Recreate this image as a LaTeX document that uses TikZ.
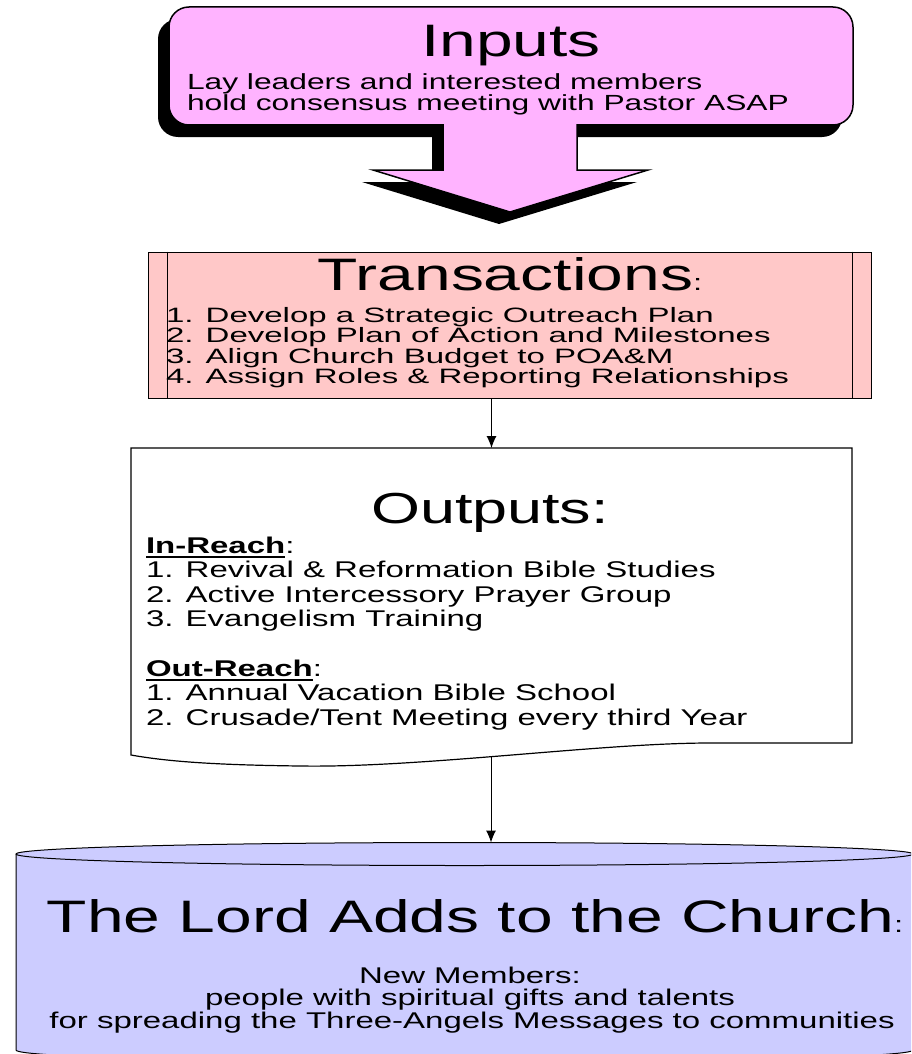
\documentclass[tikz,border=0pt]{standalone}
\usepackage{fontspec}
\usepackage{graphicx}
\setmainfont{Liberation Sans}[FakeStretch=1.45]
\usetikzlibrary{arrows.meta}
\definecolor{inpink}{RGB}{255,179,255}
\definecolor{trpink}{RGB}{255,200,200}
\definecolor{lav}{RGB}{204,204,255}
\newcommand\hdfont{\fontsize{45.5}{48}\selectfont}
\newcommand\opfont{\fontsize{43.4}{46}\selectfont}
\newcommand\smfont{\fontsize{22.75}{24}\selectfont}
\newcommand\infont{\fontsize{21.9}{24}\selectfont}
\newcommand\trfont{\fontsize{20.8}{20}\selectfont}
\newcommand\trline[1]{\scalebox{1.094}[1]{\trfont #1}}
\newcommand\myul[1]{\setbox0\hbox{#1}\rlap{\rule[-5pt]{\wd0}{2pt}}\box0}
\newcommand\inshape[1]{\path[#1] (169,66) [rounded corners=20] -- (169,7) -- (853,7) -- (853,125) -- (700,125) [sharp corners] -- (577,125) -- (577,170) -- (648,170) -- (510,212) -- (373,170) -- (443,170) -- (443,125) -- (320,125) [rounded corners=20] -- (169,125) -- cycle;}
\begin{document}
\begin{tikzpicture}[x=1pt,y=-1pt,
  txt/.style={inner sep=0pt, outer sep=0pt},
  conn/.style={line width=1pt, -{Latex[length=12pt,width=10pt]}}]
\useasboundingbox (0,0) rectangle (911,1054);
\clip (0,0) rectangle (911,1054);
% Inputs callout
\inshape{fill=black, shift={(-11,12)}}
\inshape{draw, fill=inpink, line width=1.5pt}
\node[txt, anchor=base] (inH) at (511,57) {\hdfont Inputs};
\node[txt, anchor=base west] (in1) at (187,90) {\infont Lay leaders and interested members};
\node[txt, anchor=base west] (in2) at (187,111) {\infont hold consensus meeting with Pastor ASAP};
% Transactions
\node[draw, fill=trpink, line width=1pt, minimum width=723pt, minimum height=146pt, inner sep=0pt] (trans) at (509.5,325) {};
\draw[line width=1pt] ([xshift=20pt]trans.north west) -- ([xshift=20pt]trans.south west);
\draw[line width=1pt] ([xshift=-19pt]trans.north east) -- ([xshift=-19pt]trans.south east);
\node[txt, anchor=base] (trH) at (510,290) {\hdfont Transactions{\smfont:}};
\node[txt, anchor=base west] (tr1) at (166,322) {\trline{1. Develop a Strategic Outreach Plan}};
\node[txt, anchor=base west] (tr2) at (166,342.5) {\trline{2. Develop Plan of Action and Milestones}};
\node[txt, anchor=base west] (tr3) at (166,363) {\trline{3. Align Church Budget to POA\&M}};
\node[txt, anchor=base west] (tr4) at (166,383.5) {\trline{4. Assign Roles \& Reporting Relationships}};
% Outputs document
\draw[fill=white, line width=1.2pt] (131,448) -- (852,448) -- (852,743) -- (710,743) .. controls (600,743) and (420,768) .. (300,766) .. controls (220,765) and (170,762) .. (131,755) -- cycle;
\node[txt, minimum width=721pt, minimum height=295pt] (outbox) at (491.5,595.5) {};
\coordinate (outBot) at (491,757);
\node[txt, anchor=base] (outH) at (490,523) {\opfont Outputs:};
\node[txt, anchor=base west] (o1) at (146,553) {\smfont\myul{\textbf{In-Reach}}:};
\node[txt, anchor=base west] (o2) at (146,577.5) {\smfont 1. Revival \& Reformation Bible Studies};
\node[txt, anchor=base west] (o3) at (146,602) {\smfont 2. Active Intercessory Prayer Group};
\node[txt, anchor=base west] (o4) at (146,626) {\smfont 3. Evangelism Training};
\node[txt, anchor=base west] (o5) at (146,676) {\smfont\myul{\textbf{Out-Reach}}:};
\node[txt, anchor=base west] (o6) at (146,700) {\smfont 1. Annual Vacation Bible School};
\node[txt, anchor=base west] (o7) at (146,725) {\smfont 2. Crusade/Tent Meeting every third Year};
% Cylinder
\path[fill=lav] (16,854) -- (16,1050) .. controls (16,1065.3) and (913,1065.3) .. (913,1050) -- (913,854) -- cycle;
\draw[line width=1pt] (16,854) -- (16,1050) .. controls (16,1065.3) and (913,1065.3) .. (913,1050) -- (913,854);
\draw[fill=lav, line width=1pt] (464.5,854) ellipse [x radius=448.5, y radius=11.5];
\coordinate (cylTop) at (491,842.5);
\node[txt, anchor=base] (lordH) at (475,932) {\hdfont The Lord Adds to the Church{\smfont:}};
\node[txt, anchor=base] (l1) at (470,983) {\smfont New Members:};
\node[txt, anchor=base] (l2) at (470,1005) {\smfont people with spiritual gifts and talents};
\node[txt, anchor=base] (l3) at (472,1028) {\smfont for spreading the Three-Angels Messages to communities};
% Connectors
\draw[conn] (trans.south -| outbox.north) -- (outbox.north);
\draw[conn] (outBot) -- (cylTop);
\end{tikzpicture}
\end{document}
